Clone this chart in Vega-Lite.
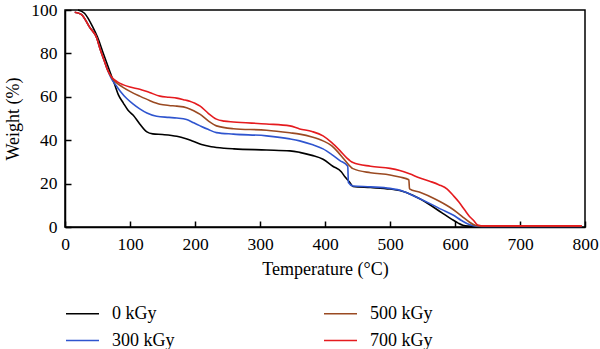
{
  "$schema": "https://vega.github.io/schema/vega-lite/v6.json",
  "width": 520,
  "height": 217,
  "autosize": {"type": "none"},
  "padding": {"left": 65, "top": 10, "right": 15, "bottom": 122},
  "background": "white",
  "config": {
    "view": {"stroke": "black", "strokeWidth": 1.5},
    "font": "Liberation Serif",
    "axis": {
      "grid": false,
      "domainColor": "black",
      "domainWidth": 1.5,
      "tickColor": "black",
      "tickWidth": 1.5,
      "tickSize": -6,
      "labelFont": "Liberation Serif",
      "labelFontSize": 17.5,
      "labelColor": "black",
      "titleFont": "Liberation Serif",
      "titleFontSize": 18,
      "titleFontWeight": "normal",
      "titleColor": "black"
    },
    "legend": {
      "labelFont": "Liberation Serif",
      "labelFontSize": 18,
      "labelColor": "black"
    }
  },
  "data": {
    "values": [
      {"T": 20, "W": 100, "s": "0 kGy"},
      {"T": 30, "W": 98.5, "s": "0 kGy"},
      {"T": 43, "W": 92, "s": "0 kGy"},
      {"T": 50, "W": 87.5, "s": "0 kGy"},
      {"T": 58, "W": 80.8, "s": "0 kGy"},
      {"T": 69, "W": 71.7, "s": "0 kGy"},
      {"T": 76, "W": 66, "s": "0 kGy"},
      {"T": 82, "W": 61, "s": "0 kGy"},
      {"T": 90, "W": 57, "s": "0 kGy"},
      {"T": 97, "W": 53.8, "s": "0 kGy"},
      {"T": 105, "W": 51.5, "s": "0 kGy"},
      {"T": 115, "W": 47.5, "s": "0 kGy"},
      {"T": 126, "W": 43.8, "s": "0 kGy"},
      {"T": 135, "W": 42.9, "s": "0 kGy"},
      {"T": 150, "W": 42.6, "s": "0 kGy"},
      {"T": 172, "W": 41.8, "s": "0 kGy"},
      {"T": 185, "W": 40.8, "s": "0 kGy"},
      {"T": 197, "W": 39.5, "s": "0 kGy"},
      {"T": 210, "W": 38, "s": "0 kGy"},
      {"T": 225, "W": 37, "s": "0 kGy"},
      {"T": 245, "W": 36.3, "s": "0 kGy"},
      {"T": 260, "W": 36, "s": "0 kGy"},
      {"T": 310, "W": 35.5, "s": "0 kGy"},
      {"T": 346, "W": 35.1, "s": "0 kGy"},
      {"T": 361, "W": 34.4, "s": "0 kGy"},
      {"T": 380, "W": 33, "s": "0 kGy"},
      {"T": 397, "W": 31.2, "s": "0 kGy"},
      {"T": 412, "W": 28, "s": "0 kGy"},
      {"T": 425, "W": 25.5, "s": "0 kGy"},
      {"T": 431, "W": 23, "s": "0 kGy"},
      {"T": 437, "W": 21, "s": "0 kGy"},
      {"T": 443, "W": 18.7, "s": "0 kGy"},
      {"T": 470, "W": 18.2, "s": "0 kGy"},
      {"T": 500, "W": 17.5, "s": "0 kGy"},
      {"T": 515, "W": 16.8, "s": "0 kGy"},
      {"T": 535, "W": 14.6, "s": "0 kGy"},
      {"T": 560, "W": 10.5, "s": "0 kGy"},
      {"T": 580, "W": 6.5, "s": "0 kGy"},
      {"T": 597, "W": 3.2, "s": "0 kGy"},
      {"T": 605, "W": 1.8, "s": "0 kGy"},
      {"T": 612, "W": 0.8, "s": "0 kGy"},
      {"T": 620, "W": 0.4, "s": "0 kGy"},
      {"T": 640, "W": 0.3, "s": "0 kGy"},
      {"T": 795, "W": 0.3, "s": "0 kGy"},

      {"T": 15, "W": 99, "s": "300 kGy"},
      {"T": 25, "W": 98, "s": "300 kGy"},
      {"T": 38, "W": 92, "s": "300 kGy"},
      {"T": 49, "W": 87, "s": "300 kGy"},
      {"T": 54, "W": 82, "s": "300 kGy"},
      {"T": 60, "W": 77, "s": "300 kGy"},
      {"T": 66, "W": 72, "s": "300 kGy"},
      {"T": 72, "W": 68, "s": "300 kGy"},
      {"T": 78, "W": 65.5, "s": "300 kGy"},
      {"T": 85, "W": 62.6, "s": "300 kGy"},
      {"T": 95, "W": 59.2, "s": "300 kGy"},
      {"T": 105, "W": 56.6, "s": "300 kGy"},
      {"T": 115, "W": 54.4, "s": "300 kGy"},
      {"T": 126, "W": 52.5, "s": "300 kGy"},
      {"T": 141, "W": 51, "s": "300 kGy"},
      {"T": 160, "W": 50.5, "s": "300 kGy"},
      {"T": 172, "W": 50.2, "s": "300 kGy"},
      {"T": 187, "W": 49.5, "s": "300 kGy"},
      {"T": 198, "W": 48, "s": "300 kGy"},
      {"T": 208, "W": 46.6, "s": "300 kGy"},
      {"T": 220, "W": 45, "s": "300 kGy"},
      {"T": 233, "W": 43.5, "s": "300 kGy"},
      {"T": 259, "W": 42.8, "s": "300 kGy"},
      {"T": 310, "W": 42, "s": "300 kGy"},
      {"T": 346, "W": 40.6, "s": "300 kGy"},
      {"T": 361, "W": 39.7, "s": "300 kGy"},
      {"T": 380, "W": 38, "s": "300 kGy"},
      {"T": 397, "W": 36, "s": "300 kGy"},
      {"T": 410, "W": 33.5, "s": "300 kGy"},
      {"T": 423, "W": 30.6, "s": "300 kGy"},
      {"T": 435, "W": 28, "s": "300 kGy"},
      {"T": 436, "W": 20.5, "s": "300 kGy"},
      {"T": 443, "W": 18.9, "s": "300 kGy"},
      {"T": 470, "W": 18.5, "s": "300 kGy"},
      {"T": 500, "W": 17.8, "s": "300 kGy"},
      {"T": 520, "W": 16.5, "s": "300 kGy"},
      {"T": 541, "W": 13.7, "s": "300 kGy"},
      {"T": 560, "W": 11, "s": "300 kGy"},
      {"T": 580, "W": 8, "s": "300 kGy"},
      {"T": 597, "W": 5.5, "s": "300 kGy"},
      {"T": 610, "W": 3, "s": "300 kGy"},
      {"T": 623, "W": 1, "s": "300 kGy"},
      {"T": 633, "W": 0.4, "s": "300 kGy"},
      {"T": 650, "W": 0.3, "s": "300 kGy"},
      {"T": 795, "W": 0.3, "s": "300 kGy"},

      {"T": 15, "W": 99, "s": "500 kGy"},
      {"T": 25, "W": 98, "s": "500 kGy"},
      {"T": 38, "W": 92, "s": "500 kGy"},
      {"T": 49, "W": 87, "s": "500 kGy"},
      {"T": 54, "W": 82, "s": "500 kGy"},
      {"T": 60, "W": 77, "s": "500 kGy"},
      {"T": 66, "W": 72, "s": "500 kGy"},
      {"T": 72, "W": 68.7, "s": "500 kGy"},
      {"T": 80, "W": 66.3, "s": "500 kGy"},
      {"T": 88, "W": 64.6, "s": "500 kGy"},
      {"T": 100, "W": 62.5, "s": "500 kGy"},
      {"T": 115, "W": 60.3, "s": "500 kGy"},
      {"T": 130, "W": 58.3, "s": "500 kGy"},
      {"T": 146, "W": 56.6, "s": "500 kGy"},
      {"T": 160, "W": 56, "s": "500 kGy"},
      {"T": 172, "W": 55.7, "s": "500 kGy"},
      {"T": 187, "W": 55, "s": "500 kGy"},
      {"T": 198, "W": 53.6, "s": "500 kGy"},
      {"T": 208, "W": 51.9, "s": "500 kGy"},
      {"T": 220, "W": 49, "s": "500 kGy"},
      {"T": 233, "W": 46.6, "s": "500 kGy"},
      {"T": 259, "W": 45.3, "s": "500 kGy"},
      {"T": 310, "W": 44.6, "s": "500 kGy"},
      {"T": 346, "W": 43.4, "s": "500 kGy"},
      {"T": 361, "W": 42.8, "s": "500 kGy"},
      {"T": 380, "W": 41.5, "s": "500 kGy"},
      {"T": 397, "W": 39.7, "s": "500 kGy"},
      {"T": 410, "W": 37.5, "s": "500 kGy"},
      {"T": 420, "W": 34.5, "s": "500 kGy"},
      {"T": 430, "W": 31, "s": "500 kGy"},
      {"T": 443, "W": 26.9, "s": "500 kGy"},
      {"T": 470, "W": 25, "s": "500 kGy"},
      {"T": 500, "W": 24, "s": "500 kGy"},
      {"T": 515, "W": 23, "s": "500 kGy"},
      {"T": 529, "W": 21.8, "s": "500 kGy"},
      {"T": 530, "W": 17.6, "s": "500 kGy"},
      {"T": 546, "W": 16, "s": "500 kGy"},
      {"T": 570, "W": 12.8, "s": "500 kGy"},
      {"T": 592, "W": 9.1, "s": "500 kGy"},
      {"T": 602, "W": 7, "s": "500 kGy"},
      {"T": 612, "W": 4.6, "s": "500 kGy"},
      {"T": 622, "W": 2.3, "s": "500 kGy"},
      {"T": 631, "W": 0.8, "s": "500 kGy"},
      {"T": 640, "W": 0.4, "s": "500 kGy"},
      {"T": 795, "W": 0.4, "s": "500 kGy"},

      {"T": 15, "W": 99, "s": "700 kGy"},
      {"T": 25, "W": 98, "s": "700 kGy"},
      {"T": 38, "W": 92, "s": "700 kGy"},
      {"T": 49, "W": 87, "s": "700 kGy"},
      {"T": 54, "W": 82, "s": "700 kGy"},
      {"T": 60, "W": 77, "s": "700 kGy"},
      {"T": 66, "W": 72, "s": "700 kGy"},
      {"T": 72, "W": 69, "s": "700 kGy"},
      {"T": 80, "W": 67, "s": "700 kGy"},
      {"T": 90, "W": 65.5, "s": "700 kGy"},
      {"T": 100, "W": 64.5, "s": "700 kGy"},
      {"T": 115, "W": 63.5, "s": "700 kGy"},
      {"T": 130, "W": 62, "s": "700 kGy"},
      {"T": 146, "W": 60.3, "s": "700 kGy"},
      {"T": 160, "W": 59.8, "s": "700 kGy"},
      {"T": 172, "W": 59.4, "s": "700 kGy"},
      {"T": 185, "W": 58.5, "s": "700 kGy"},
      {"T": 192, "W": 58, "s": "700 kGy"},
      {"T": 200, "W": 57, "s": "700 kGy"},
      {"T": 208, "W": 55.7, "s": "700 kGy"},
      {"T": 220, "W": 52.5, "s": "700 kGy"},
      {"T": 233, "W": 49.7, "s": "700 kGy"},
      {"T": 245, "W": 48.8, "s": "700 kGy"},
      {"T": 259, "W": 48.4, "s": "700 kGy"},
      {"T": 310, "W": 47.5, "s": "700 kGy"},
      {"T": 346, "W": 46.6, "s": "700 kGy"},
      {"T": 361, "W": 45.2, "s": "700 kGy"},
      {"T": 380, "W": 44, "s": "700 kGy"},
      {"T": 397, "W": 42, "s": "700 kGy"},
      {"T": 410, "W": 39, "s": "700 kGy"},
      {"T": 423, "W": 35.2, "s": "700 kGy"},
      {"T": 433, "W": 32, "s": "700 kGy"},
      {"T": 443, "W": 29.7, "s": "700 kGy"},
      {"T": 470, "W": 28, "s": "700 kGy"},
      {"T": 500, "W": 27, "s": "700 kGy"},
      {"T": 515, "W": 26, "s": "700 kGy"},
      {"T": 530, "W": 24.5, "s": "700 kGy"},
      {"T": 546, "W": 22.6, "s": "700 kGy"},
      {"T": 562, "W": 21, "s": "700 kGy"},
      {"T": 575, "W": 19.5, "s": "700 kGy"},
      {"T": 588, "W": 17.5, "s": "700 kGy"},
      {"T": 597, "W": 14.6, "s": "700 kGy"},
      {"T": 606, "W": 11.5, "s": "700 kGy"},
      {"T": 615, "W": 7.8, "s": "700 kGy"},
      {"T": 622, "W": 5, "s": "700 kGy"},
      {"T": 628, "W": 3.2, "s": "700 kGy"},
      {"T": 635, "W": 0.9, "s": "700 kGy"},
      {"T": 645, "W": 0.5, "s": "700 kGy"},
      {"T": 795, "W": 0.5, "s": "700 kGy"}
    ]
  },
  "mark": {"type": "line", "strokeWidth": 1.6, "interpolate": "monotone"},
  "encoding": {
    "x": {
      "field": "T",
      "type": "quantitative",
      "scale": {"domain": [0, 800], "nice": false},
      "axis": {"title": "Temperature (°C)", "values": [0, 100, 200, 300, 400, 500, 600, 700, 800], "labelPadding": 14, "titlePadding": 8, "labelFlush": false}
    },
    "y": {
      "field": "W",
      "type": "quantitative",
      "scale": {"domain": [0, 100], "nice": false},
      "axis": {"title": "Weight (%)", "values": [0, 20, 40, 60, 80, 100], "labelPadding": 14, "titlePadding": 8, "labelFlush": false}
    },
    "color": {
      "field": "s",
      "type": "nominal",
      "scale": {
        "domain": ["0 kGy", "500 kGy", "300 kGy", "700 kGy"],
        "range": ["#000000", "#9a4a22", "#2f55cf", "#e51b1f"]
      },
      "legend": {
        "title": null,
        "orient": "none",
        "legendX": 0,
        "legendY": 286,
        "direction": "horizontal",
        "columns": 2,
        "symbolType": "stroke",
        "symbolSize": 1089,
        "symbolStrokeWidth": 1.6,
        "labelOffset": 12,
        "columnPadding": 145,
        "rowPadding": -7
      }
    },
    "order": {"field": "T", "type": "quantitative"}
  }
}
